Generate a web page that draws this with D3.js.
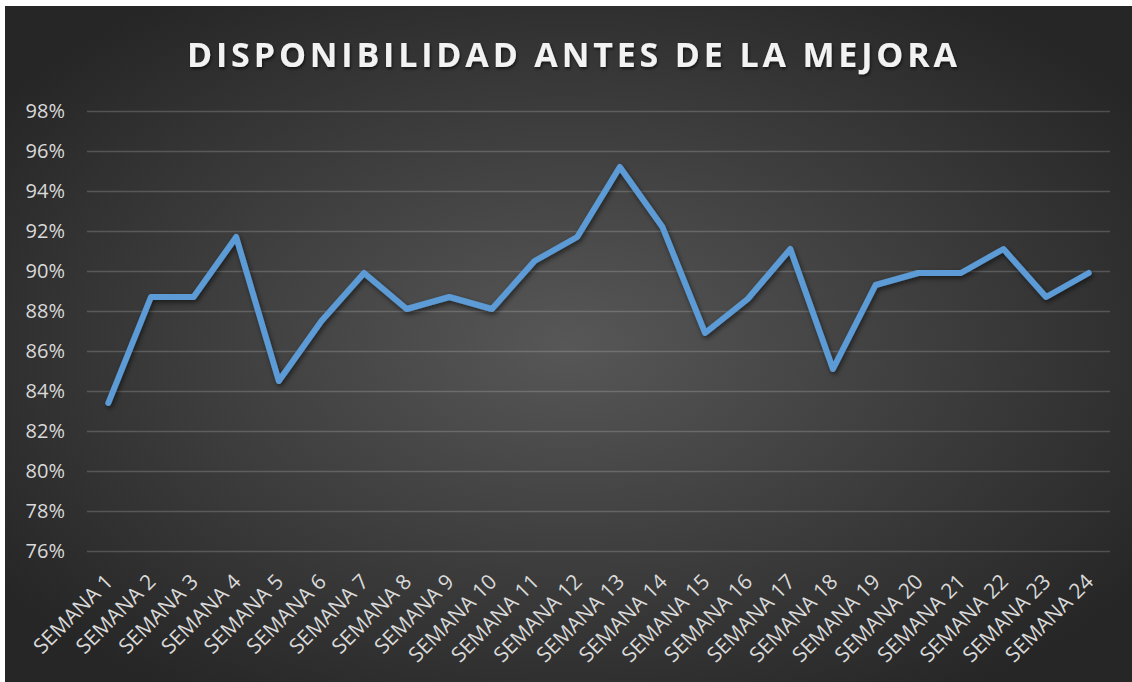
<!DOCTYPE html>
<html>
<head>
<meta charset="utf-8">
<script src="https://cdn.jsdelivr.net/npm/d3@7"></script>
<style>
  html, body { margin: 0; padding: 0; background: #ffffff; }
  svg { display: block; }
</style>
</head>
<body>
<svg id="chart" width="1132" height="682"></svg>
<script>
const categories = ["SEMANA 1","SEMANA 2","SEMANA 3","SEMANA 4","SEMANA 5","SEMANA 6","SEMANA 7","SEMANA 8","SEMANA 9","SEMANA 10","SEMANA 11","SEMANA 12","SEMANA 13","SEMANA 14","SEMANA 15","SEMANA 16","SEMANA 17","SEMANA 18","SEMANA 19","SEMANA 20","SEMANA 21","SEMANA 22","SEMANA 23","SEMANA 24"];
const disponibilidad = [0.834, 0.887, 0.887, 0.917, 0.845, 0.875, 0.899, 0.881, 0.887, 0.881, 0.905, 0.917, 0.952, 0.922, 0.869, 0.886, 0.911, 0.851, 0.893, 0.899, 0.899, 0.911, 0.887, 0.899];
const yTicks = [0.76, 0.78, 0.80, 0.82, 0.84, 0.86, 0.88, 0.90, 0.92, 0.94, 0.96, 0.98];
const title = "DISPONIBILIDAD ANTES DE LA MEJORA";

const svg = d3.select("#chart");
const defs = svg.append("defs");

const grad = defs.append("radialGradient").attr("id", "bg")
  .attr("cx", "50%").attr("cy", "50%").attr("r", "62%");
grad.append("stop").attr("offset", "0%").attr("stop-color", "#575757");
grad.append("stop").attr("offset", "100%").attr("stop-color", "#262626");

const shadow = defs.append("filter").attr("id", "shadow")
  .attr("x", "-5%").attr("y", "-5%").attr("width", "110%").attr("height", "115%");
shadow.append("feDropShadow").attr("dx", 1.5).attr("dy", 2.5).attr("stdDeviation", 2.5)
  .attr("flood-color", "#000").attr("flood-opacity", 0.55);

const tshadow = defs.append("filter").attr("id", "tshadow")
  .attr("x", "-5%").attr("y", "-20%").attr("width", "110%").attr("height", "150%");
tshadow.append("feDropShadow").attr("dx", 1).attr("dy", 2).attr("stdDeviation", 1.5)
  .attr("flood-color", "#000").attr("flood-opacity", 0.6);

svg.append("rect").attr("x", 5).attr("y", 6).attr("width", 1127).attr("height", 676)
  .attr("fill", "url(#bg)");

const x = d3.scaleBand().domain(categories).range([87, 1110]);
const y = d3.scaleLinear().domain([0.76, 0.98]).range([551, 111]);

// gridlines
const yAxis = d3.axisLeft(y).tickValues(yTicks).tickFormat(d3.format(".0%"))
  .tickSize(-(1110 - 87)).tickPadding(22);
const gy = svg.append("g").attr("transform", "translate(87,0)").call(yAxis);
gy.select(".domain").remove();
gy.selectAll(".tick line").attr("stroke", "#d9d9d9").attr("stroke-opacity", 0.22).attr("stroke-width", 1.5);
gy.selectAll(".tick text").attr("fill", "#d9d9d9")
  .style("font-family", "'Open Sans', sans-serif").style("font-size", "20px");

// x labels
const xAxis = d3.axisBottom(x).tickSize(0).tickPadding(0);
const gx = svg.append("g").attr("transform", "translate(0,551)").call(xAxis);
gx.select(".domain").remove();
gx.selectAll(".tick text")
  .attr("fill", "#d9d9d9")
  .style("font-family", "'Open Sans', sans-serif").style("font-size", "21px")
  .attr("text-anchor", "end")
  .attr("dy", null).attr("y", null)
  .attr("transform", "translate(2,28) rotate(-45)")
  .attr("dominant-baseline", "middle");

// line
const line = d3.line()
  .x((d, i) => x(categories[i]) + x.bandwidth() / 2)
  .y(d => y(d));
svg.append("path").datum(disponibilidad)
  .attr("d", line)
  .attr("fill", "none")
  .attr("stroke", "#5b9bd5")
  .attr("stroke-width", 6)
  .attr("stroke-linejoin", "round")
  .attr("stroke-linecap", "round")
  .attr("filter", "url(#shadow)");

// title
svg.append("text")
  .attr("x", 187).attr("y", 67)
  .attr("textLength", 770).attr("lengthAdjust", "spacing")
  .attr("fill", "#f2f2f2")
  .style("font-family", "'Open Sans', sans-serif").style("font-size", "34px").style("font-weight", "700")
  .attr("filter", "url(#tshadow)")
  .text(title);
</script>
</body>
</html>
